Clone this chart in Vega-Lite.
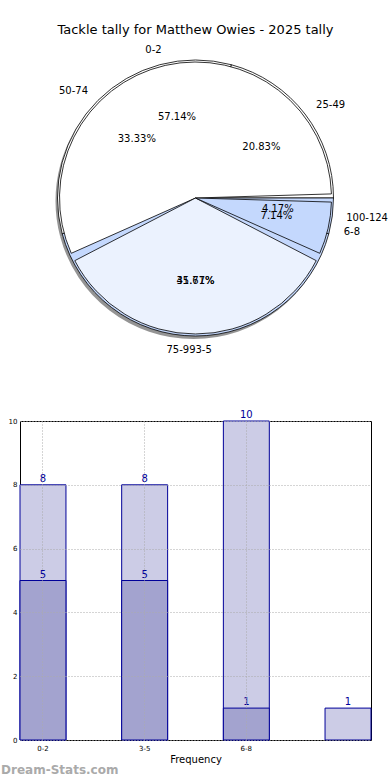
{
  "$schema": "https://vega.github.io/schema/vega-lite/v6.json",
  "padding": {"left": 0, "top": 23, "right": 0, "bottom": 0},
  "config": {"font": "DejaVu Sans", "view": {"stroke": null}},
  "datasets": {
    "pie1": [
      {"cat": "0-2", "n": 8, "pct": 0.5714, "k": 1},
      {"cat": "3-5", "n": 5, "pct": 0.3571, "k": 2},
      {"cat": "6-8", "n": 1, "pct": 0.0714, "k": 3}
    ],
    "pie2": [
      {"cat": "25-49", "n": 5, "pct": 0.2083, "k": 1},
      {"cat": "50-74", "n": 8, "pct": 0.3333, "k": 2},
      {"cat": "75-99", "n": 10, "pct": 0.4167, "k": 3},
      {"cat": "100-124", "n": 1, "pct": 0.0417, "k": 4}
    ],
    "bars": [
      {"cat": "0-2", "light": 8, "dark": 5},
      {"cat": "3-5", "light": 8, "dark": 5},
      {"cat": "6-8", "light": 10, "dark": 1},
      {"cat": "9-11", "light": 1, "dark": null}
    ]
  },
  "bounds": "flush",
  "spacing": 83,
  "vconcat": [
    {
      "width": 351,
      "height": 280,
      "title": {"text": "Tackle tally for Matthew Owies - 2025 tally", "fontSize": 13, "fontWeight": "normal", "color": "#000000", "offset": 8},
      "layer": [
        {
          "data": {"name": "pie2"},
          "encoding": {
            "theta": {"field": "n", "type": "quantitative", "stack": true, "scale": {"range": [1.5708, -4.7124]}},
            "order": {"field": "k", "type": "quantitative"}
          },
          "layer": [
            {
              "mark": {"type": "arc", "radius": 138, "fill": "#666666", "opacity": 0.7, "xOffset": -2, "yOffset": 3},
              "encoding": {"detail": {"field": "cat"}}
            },
            {
              "mark": {"type": "arc", "radius": 138, "stroke": "#000000", "strokeWidth": 0.8},
              "encoding": {
                "color": {"field": "cat", "type": "nominal", "legend": null,
                  "scale": {"domain": ["0-2", "3-5", "6-8", "25-49", "50-74", "75-99", "100-124"],
                            "range": ["#ffffff", "#ebf2fe", "#c4d8fd", "#ffffff", "#ffffff", "#c4d8fd", "#c4d8fd"]}}
              }
            }
          ]
        },
        {
          "data": {"name": "pie1"},
          "encoding": {
            "theta": {"field": "n", "type": "quantitative", "stack": true, "scale": {"range": [1.5708, -4.7124]}},
            "order": {"field": "k", "type": "quantitative"}
          },
          "layer": [
            {
              "mark": {"type": "arc", "radius": 136, "stroke": "#000000", "strokeWidth": 0.8, "padAngle": 0.06},
              "encoding": {
                "color": {"field": "cat", "type": "nominal", "legend": null}
              }
            }
          ]
        },
        {
          "data": {"name": "pie2"},
          "encoding": {
            "theta": {"field": "n", "type": "quantitative", "stack": true, "scale": {"range": [1.5708, -4.7124]}},
            "order": {"field": "k", "type": "quantitative"},
            "detail": {"field": "cat"}
          },
          "layer": [
            {
              "mark": {"type": "text", "radius": 152, "align": "right", "baseline": "middle", "fontSize": 10, "color": "#000000"},
              "encoding": {
                "text": {"condition": {"test": "datum.cat === '50-74' || datum.cat === '75-99'", "field": "cat", "type": "nominal"}, "value": ""}
              }
            },
            {
              "mark": {"type": "text", "radius": 152, "align": "left", "baseline": "middle", "fontSize": 10, "color": "#000000"},
              "encoding": {
                "text": {"condition": {"test": "datum.cat === '25-49' || datum.cat === '100-124'", "field": "cat", "type": "nominal"}, "value": ""}
              }
            },
            {
              "mark": {"type": "text", "radius": 83, "align": "center", "baseline": "middle", "fontSize": 10, "color": "#000000"},
              "encoding": {
                "text": {"field": "pct", "type": "quantitative", "format": ".2%"}
              }
            }
          ]
        },
        {
          "data": {"name": "pie1"},
          "encoding": {
            "theta": {"field": "n", "type": "quantitative", "stack": true, "scale": {"range": [1.5708, -4.7124]}},
            "order": {"field": "k", "type": "quantitative"},
            "detail": {"field": "cat"}
          },
          "layer": [
            {
              "mark": {"type": "text", "radius": 152, "align": "right", "baseline": "middle", "fontSize": 10, "color": "#000000"},
              "encoding": {
                "text": {"condition": {"test": "datum.cat === '0-2'", "field": "cat", "type": "nominal"}, "value": ""}
              }
            },
            {
              "mark": {"type": "text", "radius": 152, "align": "left", "baseline": "middle", "fontSize": 10, "color": "#000000"},
              "encoding": {
                "text": {"condition": {"test": "datum.cat === '3-5' || datum.cat === '6-8'", "field": "cat", "type": "nominal"}, "value": ""}
              }
            },
            {
              "mark": {"type": "text", "radius": 83, "align": "center", "baseline": "middle", "fontSize": 10, "color": "#000000"},
              "encoding": {
                "text": {"field": "pct", "type": "quantitative", "format": ".2%"}
              }
            }
          ]
        }
      ],
      "resolve": {"scale": {"theta": "independent"}}
    },
    {
      "width": 351,
      "height": 319,
      "data": {"name": "bars"},
      "view": {"stroke": "#000000", "strokeWidth": 1},
      "title": {"text": "Dream-Stats.com", "orient": "bottom", "anchor": "start", "frame": "bounds", "fontSize": 12, "fontWeight": "bold", "color": "#aaaaaa", "offset": 1, "dx": -7},
      "encoding": {
        "x": {
          "field": "cat", "type": "nominal", "sort": null,
          "scale": {"paddingInner": 0.548, "paddingOuter": 0},
          "axis": {"title": "Frequency", "titleFontSize": 10, "titleFontWeight": "normal", "titleColor": "#000000", "titlePadding": 3,
                   "labelFontSize": 7, "labelColor": "#000000", "labelAngle": 0, "labelPadding": 4, "values": ["0-2", "3-5", "6-8"],
                   "ticks": false, "domain": false, "grid": true, "gridDash": [1, 2], "gridColor": "#aaaaaa", "gridWidth": 1, "zindex": 1}
        }
      },
      "layer": [
        {
          "mark": {"type": "bar", "fill": "#ccccE6", "stroke": "#000099", "strokeWidth": 1},
          "encoding": {
            "y": {"field": "light", "type": "quantitative", "scale": {"domain": [0, 10], "nice": false},
                  "axis": {"title": null, "values": [0, 2, 4, 6, 8, 10], "labelFontSize": 7, "labelColor": "#000000", "labelPadding": 3,
                           "ticks": false, "domain": false, "grid": true, "gridDash": [1, 2], "gridColor": "#aaaaaa", "zindex": 1}}
          }
        },
        {
          "mark": {"type": "bar", "fill": "#a3a3cf", "stroke": "#000099", "strokeWidth": 1},
          "encoding": {"y": {"field": "dark", "type": "quantitative"}}
        },
        {
          "mark": {"type": "text", "baseline": "alphabetic", "dy": -3, "fontSize": 10, "color": "#000099"},
          "encoding": {"y": {"field": "light", "type": "quantitative"}, "text": {"field": "light", "type": "quantitative"}}
        },
        {
          "mark": {"type": "text", "baseline": "alphabetic", "dy": -3, "fontSize": 10, "color": "#000099"},
          "encoding": {"y": {"field": "dark", "type": "quantitative"}, "text": {"field": "dark", "type": "quantitative"}}
        }
      ]
    }
  ]
}
